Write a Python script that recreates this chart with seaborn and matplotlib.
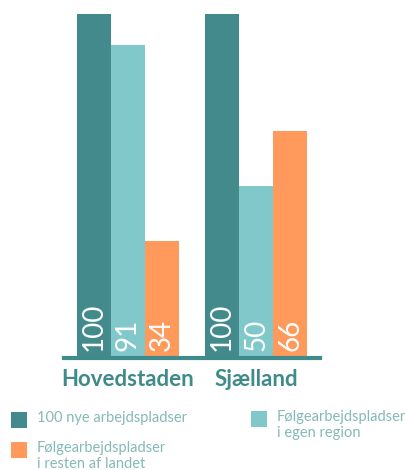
"""Grouped bar chart: ripple-effect jobs per 100 new jobs, by region."""

import matplotlib.pyplot as plt
import matplotlib.patches as mpatches
import pandas as pd
import seaborn as sns

# data
regions = ["Hovedstaden", "Sjælland"]
series = [
    "100 nye arbejdspladser",
    "Følgearbejdspladser\ni egen region",
    "Følgearbejdspladser\ni resten af landet",
]
values_direct = [100, 100]
values_own_region = [91, 50]
values_rest = [34, 66]

colors = ["#428a8b", "#80c8ca", "#ff9a5c"]
label_teal = "#3f8a8a"
legend_grey = "#86b8b8"

df = pd.DataFrame({
    "region": regions * 3,
    "series": [series[0]] * 2 + [series[1]] * 2 + [series[2]] * 2,
    "value": values_direct + values_own_region + values_rest,
})

sns.set_theme(style="white")
plt.rcParams["font.family"] = ["Lato", "DejaVu Sans"]

W, H = 406, 470
fig = plt.figure(figsize=(W / 100, H / 100), dpi=100)
ax = fig.add_axes([64 / W, 112 / H, 256 / W, 358 / H])

sns.barplot(
    data=df, x="region", y="value", hue="series",
    hue_order=series, palette=colors, order=regions,
    width=0.8, linewidth=0, saturation=1, legend=False, ax=ax,
)
ax.set_xlim(-0.5, 1.5)
ax.set_ylim(0, 100 * 358 / 344)

# value labels rotated inside the bars
for cont in ax.containers:
    for bar in cont:
        val = bar.get_height()
        ax.text(
            bar.get_x() + bar.get_width() / 2, 2.0, f"{val:.0f}",
            rotation=90, ha="center", va="bottom", color="white",
            fontsize=20, fontweight="normal",
        )

for side in ["top", "right", "left"]:
    ax.spines[side].set_visible(False)
ax.spines["bottom"].set_color(label_teal)
ax.spines["bottom"].set_linewidth(3)
ax.set_yticks([])
ax.set_xlabel("")
ax.set_ylabel("")
ax.tick_params(axis="x", length=0, pad=8)
for lbl in ax.get_xticklabels():
    lbl.set_fontsize(16)
    lbl.set_fontweight("bold")
    lbl.set_color(label_teal)

# manual legend, laid out like the original
legend_items = [
    (colors[0], series[0], 11, 412),
    (colors[2], series[2], 11, 442),
    (colors[1], series[1], 251, 411),
]
for col, text, px, py in legend_items:
    fig.patches.append(mpatches.Rectangle(
        (px / W, 1 - (py + 16) / H), 16 / W, 16 / H,
        transform=fig.transFigure, color=col, linewidth=0,
    ))
    fig.text(
        (px + 26) / W, 1 - (py - 1) / H, text, ha="left", va="top",
        fontsize=10.5, fontweight="normal", color=legend_grey, linespacing=1.2,
    )

plt.savefig("out.png", dpi=100)
plt.close()
